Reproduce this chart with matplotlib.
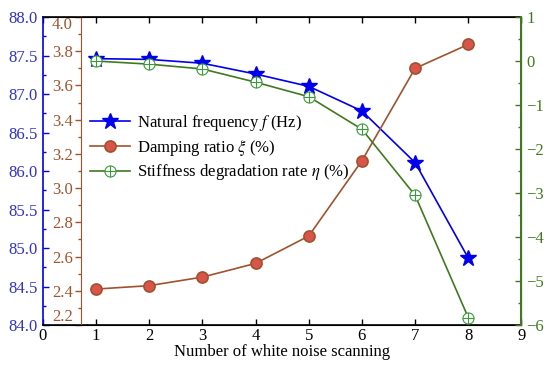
import numpy as np
import matplotlib.pyplot as plt
import matplotlib.ticker as ticker
from matplotlib.path import Path

# ─── DATA ────────────────────────────────────────────────────────────────────
scan_no   = [1, 2, 3, 4, 5, 6, 7, 8]
freq_hz   = [87.46, 87.45, 87.40, 87.26, 87.10, 86.78, 86.11, 84.87]
damping   = [2.41, 2.43, 2.48, 2.56, 2.72, 3.16, 3.70, 3.84]
stiff_deg = [0.0, -0.07, -0.18, -0.48, -0.81, -1.55, -3.05, -5.83]
damp_ticks = [2.2, 2.4, 2.6, 2.8, 3.0, 3.2, 3.4, 3.6, 3.8, 4.0]

C_BLUE  = '#0000ee'
C_BLUE_T = '#3030cc'
C_RED   = '#a0522d'
C_GREEN = '#3f7a1e'

plt.rcParams.update({
    'font.family': ['Liberation Serif', 'DejaVu Serif'],
    'mathtext.fontset': 'stix',
    'font.size': 12,
    'figure.dpi': 100,
})

# circle with a cross inside
circ = Path.unit_circle()
cross = Path([(-1, 0), (1, 0), (0, -1), (0, 1)],
             [Path.MOVETO, Path.LINETO, Path.MOVETO, Path.LINETO])
oplus = Path.make_compound_path(circ, cross)

fig, ax = plt.subplots(figsize=(5.5, 3.71))
fig.subplots_adjust(left=0.078, right=0.948, top=0.954, bottom=0.124)

# ─── BLUE: frequency ─────────────────────────────────────────────────────────
l1, = ax.plot(scan_no, freq_hz, color=C_BLUE, lw=1.2, marker='*', ms=12,
              mfc=C_BLUE, mec=C_BLUE, zorder=5,
              label=r'Natural frequency $f$ (Hz)')
ax.set_xlim(0, 9)
ax.set_ylim(84.0, 88.0)
ax.xaxis.set_major_locator(ticker.MultipleLocator(1))
ax.yaxis.set_major_locator(ticker.MultipleLocator(0.5))
ax.yaxis.set_minor_locator(ticker.MultipleLocator(0.25))
ax.yaxis.set_major_formatter(ticker.FormatStrFormatter('%.1f'))
ax.tick_params(axis='x', direction='in', top=True, length=4, width=1)
ax.tick_params(axis='y', which='major', direction='in', colors=C_BLUE,
               labelcolor=C_BLUE_T, length=4, width=1)
ax.tick_params(axis='y', which='minor', direction='in', colors=C_BLUE,
               length=2, width=1)
ax.spines['left'].set_color(C_BLUE)
ax.spines['left'].set_linewidth(1.2)
for s in ['top', 'bottom']:
    ax.spines[s].set_linewidth(1.2)
ax.set_xlabel('Number of white noise scanning', fontsize=12, labelpad=0)
ax.tick_params(axis='x', pad=2)

# ─── RED: damping ratio (inner axis) ─────────────────────────────────────────
ax2 = ax.twinx()
ax2.spines['left'].set_visible(True)
ax2.spines['left'].set_position(('data', 0.72))
ax2.spines['left'].set_color(C_RED)
ax2.spines['right'].set_visible(False)
ax2.yaxis.set_ticks_position('left')
ax2.yaxis.set_label_position('left')
l2, = ax2.plot(scan_no, damping, color=C_RED, lw=1.2, marker='o', ms=8,
               mfc='#d9544a', mec=C_RED, mew=1.2, zorder=5,
               label=r'Damping ratio $\xi$ (%)')
ax2.set_ylim(2.2, 4.0)
ax2.set_yticks(damp_ticks)
ax2.set_yticklabels([f'{v:.1f}' for v in damp_ticks])
ax2.yaxis.set_minor_locator(ticker.MultipleLocator(0.1))
ax2.tick_params(axis='y', which='major', direction='out', colors=C_RED,
                length=4, width=1, pad=2)
ax2.tick_params(axis='y', which='minor', direction='out', colors=C_RED,
                length=2, width=1)
labs = ax2.get_yticklabels()
labs[0].set_va('bottom')
labs[-1].set_va('top')

# ─── GREEN: stiffness degradation ────────────────────────────────────────────
ax3 = ax.twinx()
ax3.spines['right'].set_color(C_GREEN)
ax3.spines['right'].set_linewidth(1.5)
for s in ['left', 'top', 'bottom']:
    ax3.spines[s].set_visible(False)
l3, = ax3.plot(scan_no, stiff_deg, color=C_GREEN, lw=1.2, marker=oplus, ms=8,
               mfc='white', mec='#3c9a3c', mew=0.8, zorder=5,
               label=r'Stiffness degradation rate $\eta$ (%)')
ax3.set_ylim(-6, 1)
ax3.yaxis.set_major_locator(ticker.MultipleLocator(1))
ax3.yaxis.set_minor_locator(ticker.MultipleLocator(0.5))
ax3.tick_params(axis='y', which='major', direction='in', colors=C_GREEN,
                length=4, width=1)
ax3.tick_params(axis='y', which='minor', direction='in', colors=C_GREEN,
                length=2, width=1)

# legend drawn on the top axes so lines do not cover its text
ax3.legend(handles=[l1, l2, l3], loc='upper left', bbox_to_anchor=(0.085, 0.71),
           bbox_transform=ax.transAxes,
           frameon=False, fontsize=12, handlelength=2.4, handletextpad=0.4,
           labelspacing=0.28, borderaxespad=0)

fig.savefig('out.png', dpi=100)
